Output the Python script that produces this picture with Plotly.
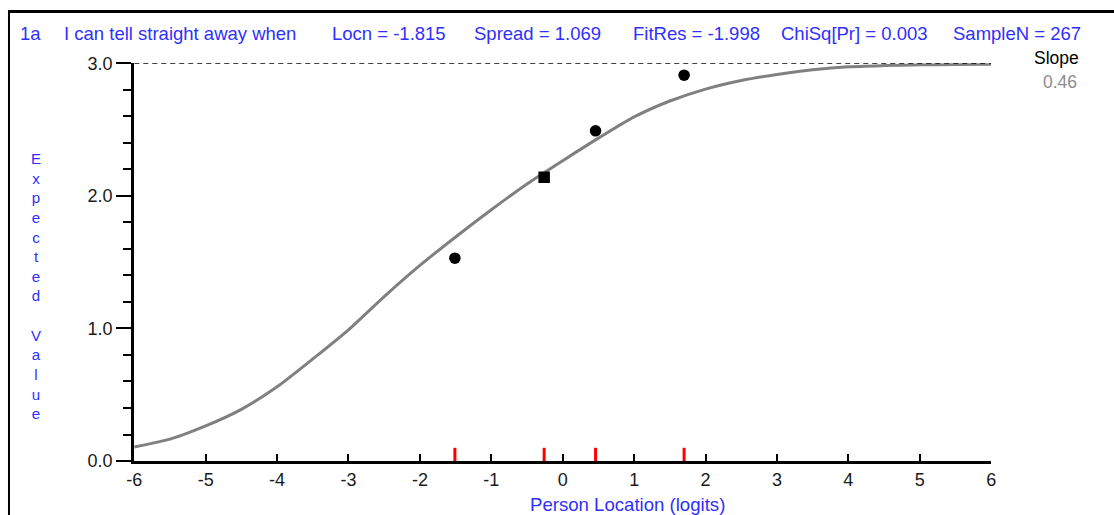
import plotly.graph_objects as go

# Measured behaviour of the capture: picture = C + S * figure_pixel
SX, SY = 0.985, 0.960
CX, CY = 10.2, 9.9
FW = 1122
FH = 527


def px(X):
    """reference picture x (pixels) -> paper x"""
    return ((X - CX) / SX) / FW


def py(Y):
    """reference picture y (pixels) -> paper y"""
    return 1 - ((Y - CY) / SY) / FH


# ---- data ----
curve_x = [-6, -5.5, -5, -4.5, -4, -3.5, -3, -2.5, -2, -1.5, -1, -0.5, 0, 0.5, 1, 1.5, 2, 2.5, 3, 3.5, 4, 4.5, 5, 5.5, 6]
curve_y = [0.106, 0.165, 0.265, 0.39, 0.56, 0.77, 0.99, 1.24, 1.475, 1.69, 1.895, 2.09, 2.265, 2.435, 2.595, 2.715, 2.805, 2.87, 2.915, 2.95, 2.973, 2.982, 2.988, 2.99, 2.992]

obs_x = [-1.51, -0.26, 0.46, 1.70]
obs_y = [1.53, 2.14, 2.49, 2.91]
obs_symbols = ["circle", "square", "circle", "circle"]

class_marks_x = obs_x
class_mark_height = 0.1

x_ticks = [-6, -5, -4, -3, -2, -1, 0, 1, 2, 3, 4, 5, 6]
x_tick_labels = ["-6", "-5", "-4", "-3", "-2", "-1", "0", "1", "2", "3", "4", "5", "6"]
y_ticks = [0.0, 1.0, 2.0, 3.0]
y_tick_labels = ["0.0", "1.0", "2.0", "3.0"]
max_score = 3.0

header_items = ["1a", "I can tell straight away when", "Locn = -1.815", "Spread = 1.069",
                "FitRes = -1.998", "ChiSq[Pr] = 0.003", "SampleN = 267"]
header_x_px = [20, 64, 331, 473, 631, 779, 950]

slope_label = "Slope"
slope_value = "0.46"

BLUE = "#2f2fff"
TXT = "#1a1a1a"

# plot area in reference picture pixels
x_left, x_right = 136, 990
y_top, y_bot = 63, 460

fig = go.Figure()

fig.add_trace(go.Scatter(x=curve_x, y=curve_y, mode="lines",
                         line=dict(color="#808080", width=3, shape="spline", smoothing=0.6),
                         hoverinfo="skip", cliponaxis=False))

fig.add_trace(go.Scatter(x=[x_ticks[0], x_ticks[-1]], y=[max_score, max_score], mode="lines",
                         line=dict(color="black", width=1.8, dash="5px,4px"), hoverinfo="skip",
                         cliponaxis=False))

rx, ry = [], []
for v in class_marks_x:
    rx += [v, v, None]
    ry += [0, class_mark_height, None]
fig.add_trace(go.Scatter(x=rx, y=ry, mode="lines", line=dict(color="red", width=3),
                         hoverinfo="skip", cliponaxis=False))

fig.add_trace(go.Scatter(x=obs_x, y=obs_y, mode="markers",
                         marker=dict(color="black", size=11.5, symbol=obs_symbols, line=dict(width=0)),
                         cliponaxis=False))

fig.update_layout(
    width=FW, height=FH, autosize=False,
    margin=dict(l=0, r=0, t=0, b=0),
    paper_bgcolor="white", plot_bgcolor="white",
    showlegend=False,
    font=dict(family="Liberation Sans, Arial, sans-serif", color=TXT),
    xaxis=dict(
        domain=[px(x_left), px(x_right)], range=[-6, 6],
        tickvals=x_ticks, ticktext=x_tick_labels, ticks="inside", ticklen=7, tickwidth=2,
        tickcolor="black",
        showline=True, linecolor="black", linewidth=3,
        showgrid=False, zeroline=False,
        tickfont=dict(size=18, color=TXT),
        anchor="y",
    ),
    yaxis=dict(
        domain=[py(y_bot), py(y_top)], range=[0, 3],
        tickvals=y_ticks, ticktext=y_tick_labels, ticks="outside", ticklen=15, tickwidth=2,
        tickcolor="black",
        minor=dict(dtick=0.2, ticks="outside", ticklen=8, tickwidth=2, tickcolor="black"),
        showline=True, linecolor="black", linewidth=3,
        showgrid=False, zeroline=False,
        tickfont=dict(size=18, color=TXT),
        anchor="x",
    ),
)

anns = []
for t, xp in zip(header_items, header_x_px):
    anns.append(dict(text=t, x=px(xp), y=py(33.5), xref="paper", yref="paper",
                     xanchor="left", yanchor="middle", showarrow=False,
                     font=dict(size=18.5, color=BLUE)))

anns.append(dict(text="<br>".join(list("Expected")) + "<br> <br>" + "<br>".join(list("Value")),
                 x=px(38.5), y=py(285), xref="paper", yref="paper", xanchor="center",
                 yanchor="middle", showarrow=False, align="center",
                 font=dict(size=15.1, color=BLUE)))

anns.append(dict(text="Person Location (logits)", x=px(627.5), y=py(503), xref="paper", yref="paper",
                 xanchor="center", yanchor="middle", showarrow=False,
                 font=dict(size=18.6, color=BLUE)))

anns.append(dict(text=slope_label, x=px(1055.5), y=py(57.5), xref="paper", yref="paper",
                 xanchor="center", yanchor="middle", showarrow=False,
                 font=dict(size=17.5, color="black")))
anns.append(dict(text=slope_value, x=px(1059), y=py(81.5), xref="paper", yref="paper",
                 xanchor="center", yanchor="middle", showarrow=False,
                 font=dict(size=17.5, color="#8c8c8c")))
fig.update_layout(annotations=anns)

# outer frame (left and top edges), as close to the picture edge as the page allows
fig.add_shape(type="line", xref="paper", yref="paper", x0=0, x1=1, y0=1 - 1.5 / FH, y1=1 - 1.5 / FH,
              line=dict(color="black", width=3))
fig.add_shape(type="line", xref="paper", yref="paper", x0=1 / FW, x1=1 / FW, y0=0, y1=1,
              line=dict(color="black", width=2))

fig.write_html("out.html")
